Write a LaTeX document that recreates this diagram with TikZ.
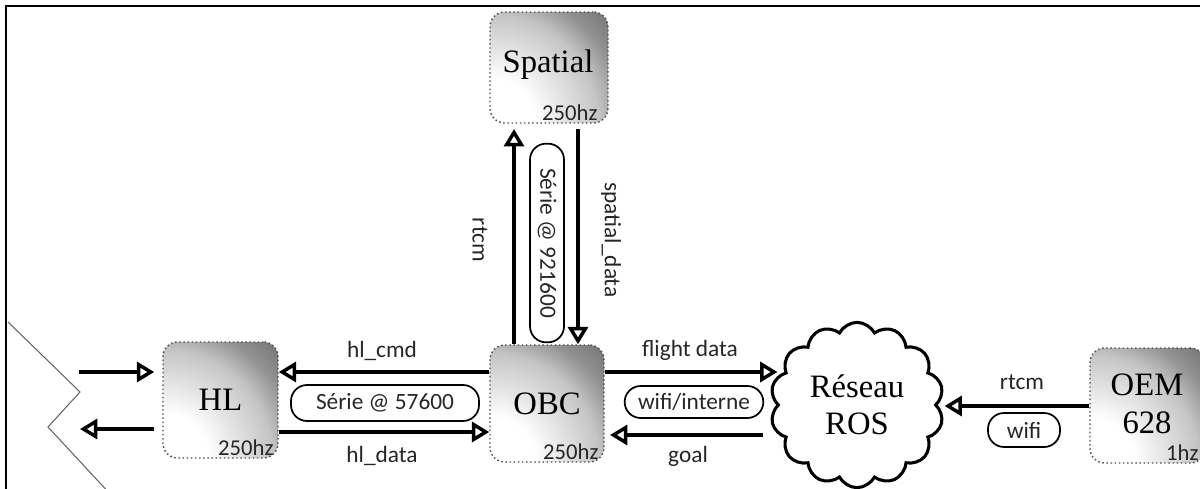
\documentclass[tikz,border=0pt]{standalone}
\usepackage{fontspec}
\setmainfont{Liberation Serif}
\newfontfamily\lblfont{Carlito}
\usetikzlibrary{arrows.meta,shapes.symbols,calc}
\pgfdeclareradialshading{boxshade}{\pgfpoint{0bp}{0bp}}{%
  color(0bp)=(white); color(7bp)=(white); color(17bp)=(black!23);
  color(21bp)=(black!43); color(26bp)=(black!56); color(50bp)=(black!56)}
\tikzset{
  unitbox/.style={draw=gray!60!black, dotted, line width=1.1pt, rounded corners=11pt,
    path picture={\shade[shading=boxshade]
      (path picture bounding box.south west) circle[radius=#1];},
    inner sep=0pt, font=\fontsize{24.5}{27}\selectfont, align=center},
  unitbox/.default=120pt,
  hz/.style={font=\lblfont\fontsize{17}{19}\selectfont, inner sep=0pt, text=black!85},
  lbl/.style={font=\lblfont\fontsize{17.5}{20}\selectfont, inner sep=0pt, text=black!85},
  pill/.style={draw, line width=1.3pt, rounded corners=12pt, font=\lblfont\fontsize{17.5}{20}\selectfont, inner sep=0pt, text=black!85},
  arr/.style={line width=3pt, -{Triangle[open, length=13pt, width=15pt, line width=2.6pt]}},
  serif/.style={font=\fontsize{24.5}{27}\selectfont, align=center, inner sep=0pt},
}
\begin{document}
\begin{tikzpicture}[x=0.75pt,y=-0.75pt]
\useasboundingbox (0,0) rectangle (1200,489);
% frame
\draw[line width=2.2pt] (6,489) -- (6,6) -- (1200,6);
\draw[gray!80!black, line width=0.8pt] (8,322) -- (80,392) -- (48,427) -- (112,496);

% boxes
\node[unitbox, minimum width=86.25pt, minimum height=87pt] (HL) at (220.5,400) {HL};
\node[unitbox, minimum width=85.5pt, minimum height=87.75pt] (OBC) at (547,403.5) {OBC};
\node[unitbox, minimum width=88.5pt, minimum height=83.25pt] (SP) at (549,67.5) {};
\node[serif] (SPt) at (548,65) {Spatial};
\node[unitbox, minimum width=86.25pt, minimum height=86.25pt] (OEM) at (1147.5,405.5) {};
\node[serif] (OEMt) at (1147,404) {OEM\\[1.5pt]628};

\node[hz, anchor=south east] (hzHL) at ($(HL.south east)+(-5,-3)$) {250hz};
\node[hz, anchor=south east] (hzOBC) at ($(OBC.south east)+(-6,-3)$) {250hz};
\node[hz, anchor=south east] (hzSP) at ($(SP.south east)+(-11,-3)$) {250hz};
\node[hz, anchor=south east] (hzOEM) at ($(OEM.south east)+(-7,-3)$) {1hz};

% cloud
\node[cloud, draw, line width=2.3pt, cloud puffs=14, cloud puff arc=125, aspect=1.05,
  minimum width=130pt, minimum height=124pt, inner sep=0pt,
  font=\fontsize{24.5}{27}\selectfont, align=center] (ROS) at (857,405) {R\'eseau\\[0.75pt]ROS};

% HL <-> OBC
\draw[arr] (OBC.west |- 0,372) -- (HL.east |- 0,372);
\draw[arr] (HL.east |- 0,432) -- (OBC.west |- 0,432);
\node[lbl] (lcmd) at (382,351) {hl\_cmd};
\node[lbl] (ldata) at (382,456) {hl\_data};
\node[pill, minimum width=141pt, minimum height=27pt] (p1) at (385,403) {S\'erie @ 57600};

% left arrows
\coordinate (L1) at (79,372);
\coordinate (L2) at (80,429);
\draw[arr, shorten >=6pt] (L1) -- (HL.west |- L1);
\draw[arr, shorten <=6pt] (HL.west |- L2) -- (L2);

% OBC <-> Spatial
\draw[arr, shorten >=4pt] (OBC.north -| 514,0) -- (SP.south -| 514,0);
\draw[arr, shorten <=4pt] (SP.south -| 578,0) -- (OBC.north -| 578,0);
\node[lbl, rotate=-90] (lrtcm) at (480,240) {rtcm};
\node[lbl, rotate=-90] (lsd) at (611,240) {spatial\_data};
\node[pill, rotate=-90, minimum width=149pt, minimum height=25.5pt] (p2) at (547,243) {S\'erie @ 921600};

% OBC <-> ROS
\draw[arr, shorten >=-1pt] (OBC.east |- 0,372) -- (ROS.west |- 0,372);
\draw[arr, shorten <=10pt, shorten >=4pt] (ROS.west |- 0,435) -- (OBC.east |- 0,435);
\node[lbl] (lfd) at (690,350) {flight data};
\node[lbl] (lgoal) at (688,456) {goal};
\node[pill, minimum width=104pt, minimum height=24pt] (p3) at (694,402) {wifi/interne};

% OEM -> ROS
\draw[arr, shorten >=5pt] (OEM.west |- 0,406) -- (ROS.east |- 0,406);
\node[lbl] (lrtcm2) at (1022,382) {rtcm};
\node[pill, minimum width=54pt, minimum height=25.5pt] (p4) at (1024,430) {wifi};
\end{tikzpicture}
\end{document}
